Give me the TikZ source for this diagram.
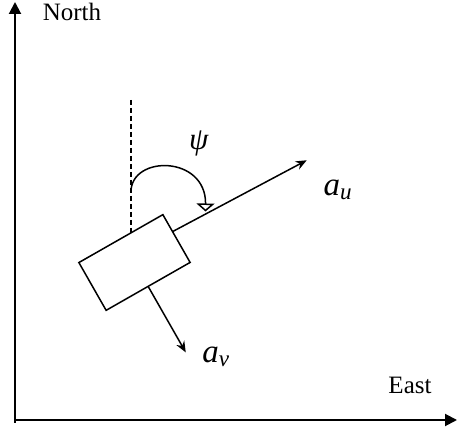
\documentclass[tikz,border=0pt]{standalone}
\usepackage{amsmath}
\usepackage{fontspec}
\setmainfont{Liberation Serif}
\usetikzlibrary{arrows.meta,calc}

\begin{document}
\begin{tikzpicture}[x=1pt,y=1pt,>={Triangle[length=12pt,width=12pt]},line width=1.5pt]
\useasboundingbox (0,0) rectangle (458,435);
\coordinate (O) at (15,15);
\coordinate (N) at (15,433);
\coordinate (E) at (457,15);
\draw[->,line width=2pt] ($(O)+(0,-3)$) -- (N);
\draw[->,line width=2pt] (O) -- (E);
\node[font=\fontsize{25}{30}\selectfont] (north) at (72,423) {North};
\node[font=\fontsize{25}{30}\selectfont] (east) at (410,50) {East};
% vehicle body
\node[draw,rotate=29.7,minimum width=96.7pt,minimum height=55pt,inner sep=0,outer sep=0] (body) at (134.5,172.5) {};
\coordinate (top) at ($(body.north west)!0.62!(body.north east)$);
\coordinate (ref) at (top |- 0,335);
\draw[dash pattern=on 5pt off 3pt] (ref) -- (top);
% axes of the body
\coordinate (us) at ($(body.north east)!0.355!(body.south east)$);
\coordinate (ue) at ($(us)+(28:152)$);
\draw[-{Stealth[length=11pt,width=9pt]}] (us) -- (ue);
\coordinate (ve) at ($(body.south)+(-60.3:76)$);
\draw[-{Stealth[length=11pt,width=9pt]}] (body.south) -- (ve);
% heading angle
\coordinate (arcs) at (ref |- 0,243);
\coordinate (arce) at (205.5,223.5);
\draw[-{Triangle[open,length=8pt,width=18pt]}] (arcs) .. controls +(0,37) and +(0.5,56.5) .. (arce);
\node[font=\fontsize{31}{36}\selectfont] (psi) at (199,292) {\textit{ψ}};
\node[font=\fontsize{33}{38}\selectfont] (au) at (338,245) {$\textit{a}_{\textit{u}}$};
\node[font=\fontsize{33}{38}\selectfont] (av) at (216,78) {$\textit{a}_{\textit{v}}$};
\end{tikzpicture}
\end{document}
